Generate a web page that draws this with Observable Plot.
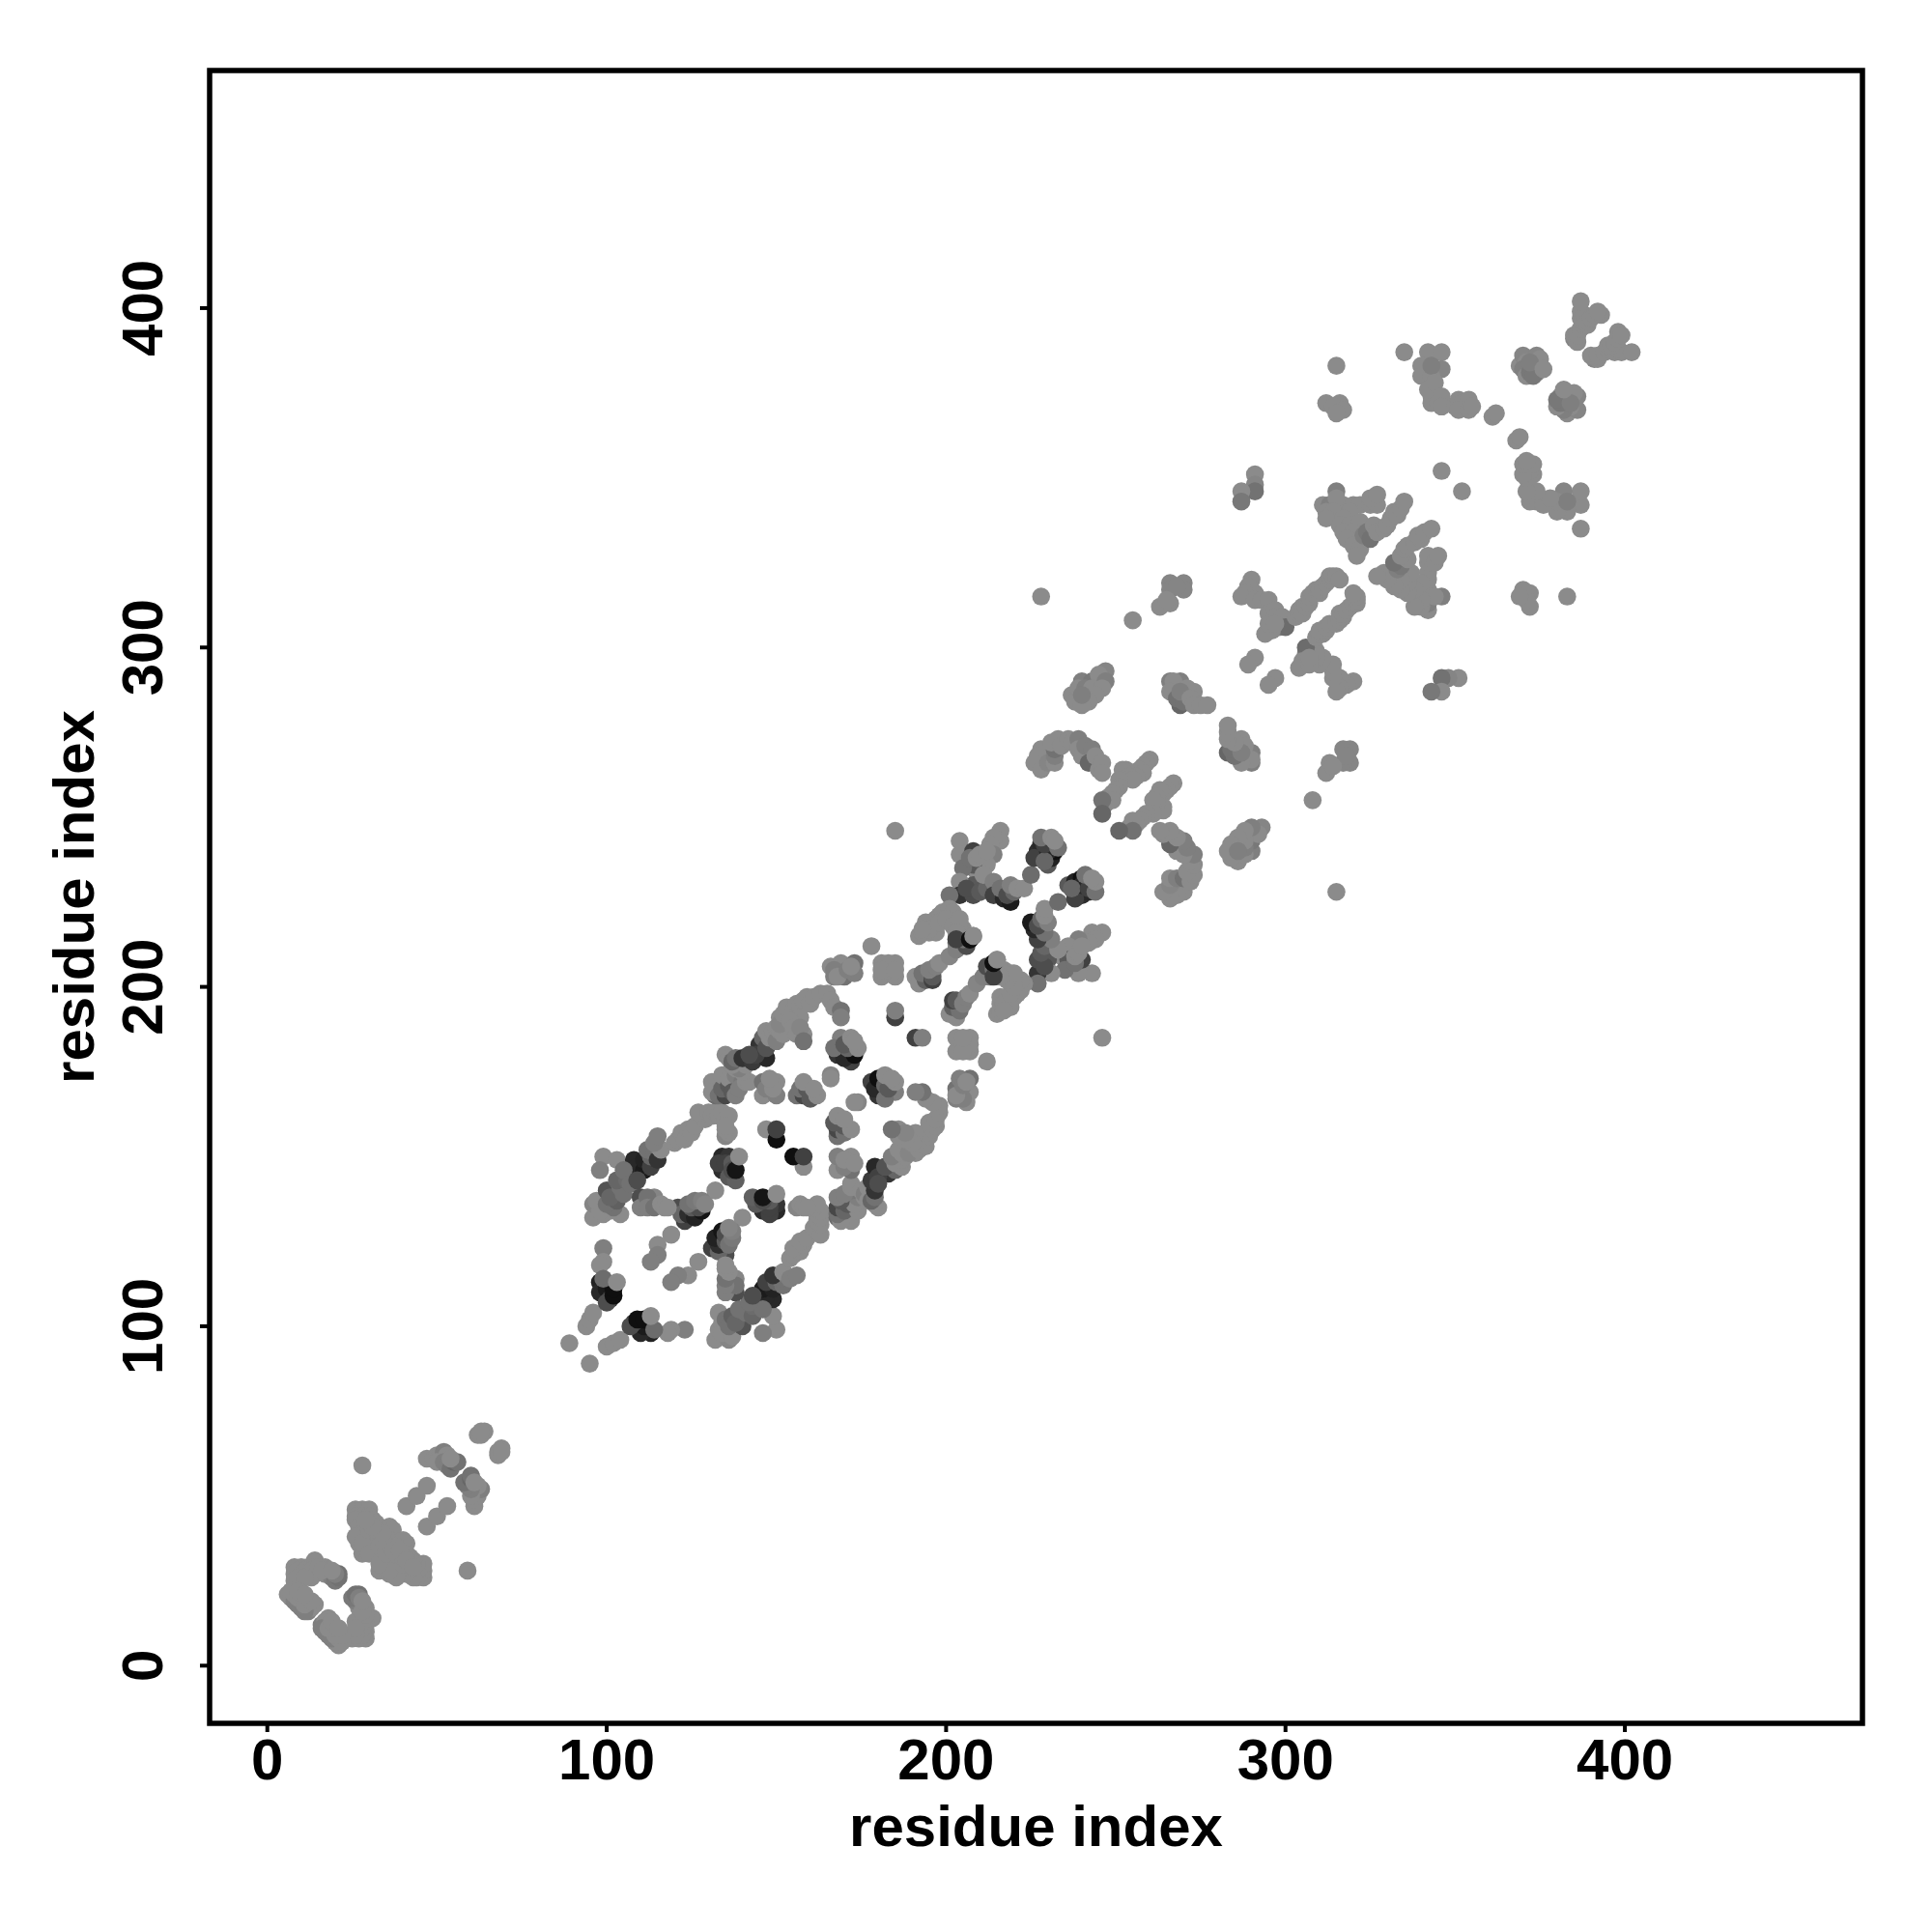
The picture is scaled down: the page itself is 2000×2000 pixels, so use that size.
<!DOCTYPE html>
<html>
<head>
<meta charset="utf-8">
<script src="https://cdn.jsdelivr.net/npm/d3@7"></script>
<script src="https://cdn.jsdelivr.net/npm/@observablehq/plot@0.6"></script>
<style>
html,body{margin:0;padding:0;background:#fff}
svg{display:block;max-width:none}
</style>
</head>
<body>
<div id="chart"></div>
<script>
// Contacts [residue a, residue b, darkness]; the map is symmetric, each is drawn at (a,b) and (b,a).
const contactsN = [
 [28,59],[41,47],[44,50],[47,53],[62,68],[63,68],[64,69],[63,69],
 [47,61],[49,61],[50,62],[51,62],[52,63,.1],[53,62],[50,60],[52,60,.1],[53,59,.1],[54,58,.2],[55,60,.3],[56,60,.2],[54,61],
 [26,46],[28,46],[30,46],[26,44],[28,44],[30,44],[26,43],[31,43],[27,41],[29,41],[32,42],[33,41],[35,40],[36,41],[37,40],[33,39],[35,38],[31,38],[29,38],[28,39],[30,36],[31,35],[32,36],[33,37],
 [28,33],[29,34],[27,36],[26,38],[28,36],[30,33],[33,35],[34,37],[30,40],[32,40],[34,39],[31,41],[29,43],
 [8,29],[8,27],[8,25],[10,29],[10,27],[12,29],[12,27],[14,31],[14,29],[13,26],[17,29],[17,27],[18,28],[19,26,.1],[20,25,.15],[21,27,.2],[21,26,.2],[20,27,.1],
 [9,28],[11,28],[13,28],[15,29],[16,28],[9,26],[11,26],[19,28],
 [6,21],[7,20],[8,19,.1],[9,18,.1],[10,17,.1],[12,16,.1],[13,17],[14,18],[10,20],[12,19],[8,21],[11,16,.1],[7,22],[9,20],[11,18],[13,19],[9,22],[11,21]
];
const contactsC1 = [
 [89,95],[94,100],[95,102],[96,104],
 [99,123,.1],[99,119],[98,118],[98,113,.85],[98,110,.8],[100,111,.9],[101,108,.65],[100,107,.5],[102,109,1],[102,111,1],[99,114,.25],[103,113],
 [119,127],[115,124],[115,121,.1],[113,119,.1],[132,140],
 [96,132],[96,136,.05],[99,133],[99,150],[103,149],[98,146,.1],[101,134],[98,134],[97,137],[104,133],
 [100,140,.45],[102,135,.2],[100,136,.2],[103,137,.35],[101,138,.3],[104,141,.2],[105,139,.2],[103,143,.3],[106,143,.25],[107,145,.75],[108,149,.8],[109,147,.8],[111,146,.9],[111,149,.85],[105,146,.2],[107,142,.2],[109,143,.5],[113,147,.6],[113,150,.3],[112,152,.2],[114,151,.2],[115,149,.7],[115,153,.15],[116,152],[114,154,.1],[115,156,.1],
 [120,154],[121,155],[122,157],[123,155],[124,158],[125,157],[126,159],[128,162],[129,161],[127,163],[130,163],[131,162],[132,163],[133,162],[134,163],[135,161],[136,162],[135,156,.05],[136,157],[135,158],[135,159],
 [134,150,.8],[134,146,.75],[136,150,.7],[133,148,.6],[135,148,.6],[136,144,.4],[137,148,.4],[138,143,.35],[137,146,.5],[138,146,.95],[139,150],
 [121,135,.5],[123,131,.6],[122,133,.3],[124,133,.75],[126,132,.85],[125,135,.4],[128,134,.95],[127,135,.5],[124,136,.2],[126,137,.15],[128,137,.1],[129,136,.05],
 [110,138,.5],[114,138,.05],[110,135,.1],[112,138,.2],[112,135,.1],[114,135,.2],[116,136],[117,135],[118,135]
];
const contactsC2 = [
 [147,158],[150,155,1],[150,158,.6],
 [133,171],[132,168,.25],[131,172],[131,169],[133,168,.2],[135,168,.55],[134,170,.3],[134,174],[136,171,.4],[136,173],[137,169,.4],[138,174,.1],[140,172,.15],[138,168,.1],[139,170,.1],[141,172],[142,172],[140,175],[138,176],[139,176,.1],[137,177],[141,177],[135,180],[136,179],[137,178,.3],[138,179,.2],
 [140,179,.7],[143,178,.65],[145,183,.7],[147,179,.8],[144,180,.6],[142,180,.5],[146,185,.3],[147,182,.45],[147,187],[148,185],[149,187],[150,184,.1],[150,188],[151,187],[152,186],[153,189],[151,191],[151,189,.05],[155,192],[152,192],[153,194],[155,193],[156,195],[157,194],[156,190],[157,191],[154,190],[155,188],[156,186],[158,186],[157,188,.05],[158,184,.2],[158,196],[159,197],[160,195],[161,197],[163,198],[165,198],[166,196],[167,194],[169,193,.2],[169,191,.1],
 [156,168,.2],[158,168,.55],[160,168,.5],[157,170,.2],[159,170,.4],[160,167,.4],[162,168],[158,172],[161,170],[146,172,.2],[150,172],[146,168],[150,168,.1],[147,170,.1],[149,170],[148,173],
 [166,174,.05],[166,173]
];
const contactsC3 = [
 [178,212],[166,206],[169,207],[173,207,.2],[167,203,.1],[170,203,.2],[173,204,.1],[167,205,.1],[168,203],[171,205,.1],[172,206],
 [181,207],[185,207],[181,203],[185,203],[183,205],[183,207],[181,205],[185,205],
 [191,203],[192,201],[194,202,.35],[193,204,.2],[196,202,.6],[196,203,.4],[195,205,.1],[197,206,.1],[198,207],[201,209,.05],
 [192,215],[193,216],[195,216],[197,216],[194,218],[196,219],[203,213,.15],[203,211,.1],[206,212,.5],[204,216,.1],[205,214,.2],[205,217],[204,219],[207,214,1],[208,215],
 [185,191,.6],[185,193,.1],
 [169,181,.7],[168,180,.7],[172,178,.6],[170,179,.8],[169,185,.1],[173,180,1],[167,182,.2],[171,182,.3],[170,183,.4],[172,185],[174,182],[173,184],
 [204,243],[204,239],[208,240,.6],[216,246],[216,243],[214,244],[213,242],[214,239,.1],[212,236],[209,234],[208,236,.4],[205,235,.2],[207,238,.2],[209,238],[210,239],[212,240],
 [208,230,.4],[204,231],[204,227,.7],[201,227,.2],[208,227,.5],[206,229,.5],[210,228,.4],[212,229,.3],[211,233],[214,231,.1],[214,227,.6],[217,226,.8],[219,225,.9],[216,229,.2],[218,227,.5],[220,228,.3],[219,230,.1],[221,229],[223,229],[225,233,.25],
 [200,222],[198,221],[197,220],[199,222],[201,223],[202,222],[194,219],[195,217],[198,219],[200,220],[202,218],[193,217],[204,220],[203,216],[203,214,.6],[207,214,1],[208,215],
 [227,240,.75],[228,238,.3],[228,242,.8],[226,238,.6],[230,236,.4],[231,238,.85],[232,240,1],[230,240,.8],[229,237,.3],[229,242,.6],[228,244,.2],[233,241,.2],[231,244],[232,243]
];
const contactsC4 = [
 [185,246],[228,315],[255,308],
 [266,319,.05],[270,319,.05],[266,317,.05],[270,317,.05],[268,318,.05],[266,313],[263,312],[265,314],
 [266,290,.1],[269,290,.1],[267,290],[266,287],[273,287],[271,288],[269,283,.3],[268,285,.2],[270,284,.2],[269,287,.1],[272,285],[273,283],[275,283],[277,283],
 [240,290,.1],[243,290,.15],[247,293,.05],[245,292],[247,290,.1],[237,286],[239,288],[241,288,.1],[243,288],[246,288],[244,286],[242,284],[238,284],[240,283],[240,286,.1],
 [228,270],[227,268],[226,266],[228,264],[230,266,.05],[232,266],[232,268,.1],[232,270,.2],[231,272],[233,273],[234,271],[236,273],[237,272],[239,273,.1],[239,270],[240,268],[241,271,.1],[243,270,.1],[242,266,.3],[244,268],[245,264],[246,266],[246,263],
 [260,267],[259,266],[258,265],[257,264],[253,264],[252,264],[258,263],[256,262],[254,262],[252,261],[255,261],[251,261],[251,259],[250,258],[249,257],[248,256],[247,254],[249,255],[246,255,.2],[246,251,.3]
];
const contactsC5 = [
 [291,351],[291,348,.05],[291,346,.2],[287,346],[287,343,.15],
 [290,320],[290,317],[289,318],[291,316],[288,316],[287,315],[291,314],[293,314],[295,314],[295,310],[297,311],[297,309],[299,309],[298,306,.1],[300,306,.25],[296,305],[294,304],[295,307],[297,307],
 [303,309],[304,310],[304,311],[305,312],[305,310],[306,312],[307,313],[307,315],[308,316],[309,317],[310,316],[310,317],[311,318],[312,319],[313,320],[313,321],[314,321],[315,321],[316,320],[291,297],[289,295],
 [315,346,.1],[311,342],[313,342,.1],[317,342],[320,342],[322,342],[325,342],[327,342],[325,344],[327,345],[315,344],[312,340],[314,340],[319,340],[312,338],[317,338],[316,336],[319,336],[322,337],[317,334],[320,334],[318,332],[322,331],[320,330],[322,329],[321,327],[323,333,.1],[324,334,.15],[325,332,.2],[326,336],[327,334],[329,335],[330,336],[331,338],[332,340],[333,339],[334,341],[335,343],
 [335,387],[342,387],[346,387],[346,382,.05],[340,383],[340,380],[343,380],[343,383,.1],
 [343,374],[343,372],[345,372],[342,376],[344,378],[346,374],[346,371],[350,371],[351,373],[352,372],[353,371],[354,373],[351,370],[354,370],[355,371],
 [346,352],[361,368],[362,369],
 [315,383],[312,372],[316,372],[314,371],[317,370],[315,369],
 [369,383],[370,386,.05],[374,386,.05],[371,384],[373,384],[375,385],[370,382,.1],[371,380],[374,381],[372,381,.15],[373,380,.15],[372,384,.1],[376,382],
 [385,391,.05],[385,392],[386,390],[386,392],[387,394],[388,395],[389,395],[387,397],[387,399],[388,398],[389,396],[390,397],[391,398],[393,398],[392,399],[387,402]
];

const allContacts = [...contactsN, ...contactsC1, ...contactsC2, ...contactsC3, ...contactsC4, ...contactsC5];
const tickValues = [0, 100, 200, 300, 400];
const table = allContacts.flatMap(([a, b, w = 0]) => [{x: a, y: b, w}, {x: b, y: a, w}]);

const font = "'Liberation Sans', Arial, sans-serif";
const chart = Plot.plot({
  width: 2000, height: 2000,
  marginLeft: 216.5, marginRight: 72.5, marginTop: 72.5, marginBottom: 216.5,
  style: {fontFamily: font, background: "#fff", overflow: "visible"},
  x: {domain: [-17, 470]},
  y: {domain: [-17, 470]},
  color: {type: "linear", domain: [0, 1], range: ["#8b8b8b", "#0f0f0f"], legend: false},
  marks: [
    Plot.dot(table, {x: "x", y: "y", fill: "w", r: 9.3, stroke: "none"}),
    Plot.frame({stroke: "#000", strokeWidth: 5.5}),
    Plot.axisX({ticks: tickValues, tickSize: 9.5, strokeWidth: 4, tickPadding: 6, fontSize: 60, fontWeight: "bold", fill: "#000",
      label: "residue index", labelAnchor: "center", labelArrow: "none", labelOffset: 127, tickFormat: d => String(d)}),
    Plot.axisY({ticks: tickValues, tickSize: 9.5, strokeWidth: 4, tickPadding: 59, fontSize: 60, fontWeight: "bold", fill: "#000",
      tickRotate: -90, textAnchor: "middle", lineAnchor: "middle",
      label: "residue index", labelAnchor: "center", labelArrow: "none", labelOffset: 163, tickFormat: d => String(d)})
  ]
});
document.getElementById("chart").appendChild(chart);
</script>
</body>
</html>
